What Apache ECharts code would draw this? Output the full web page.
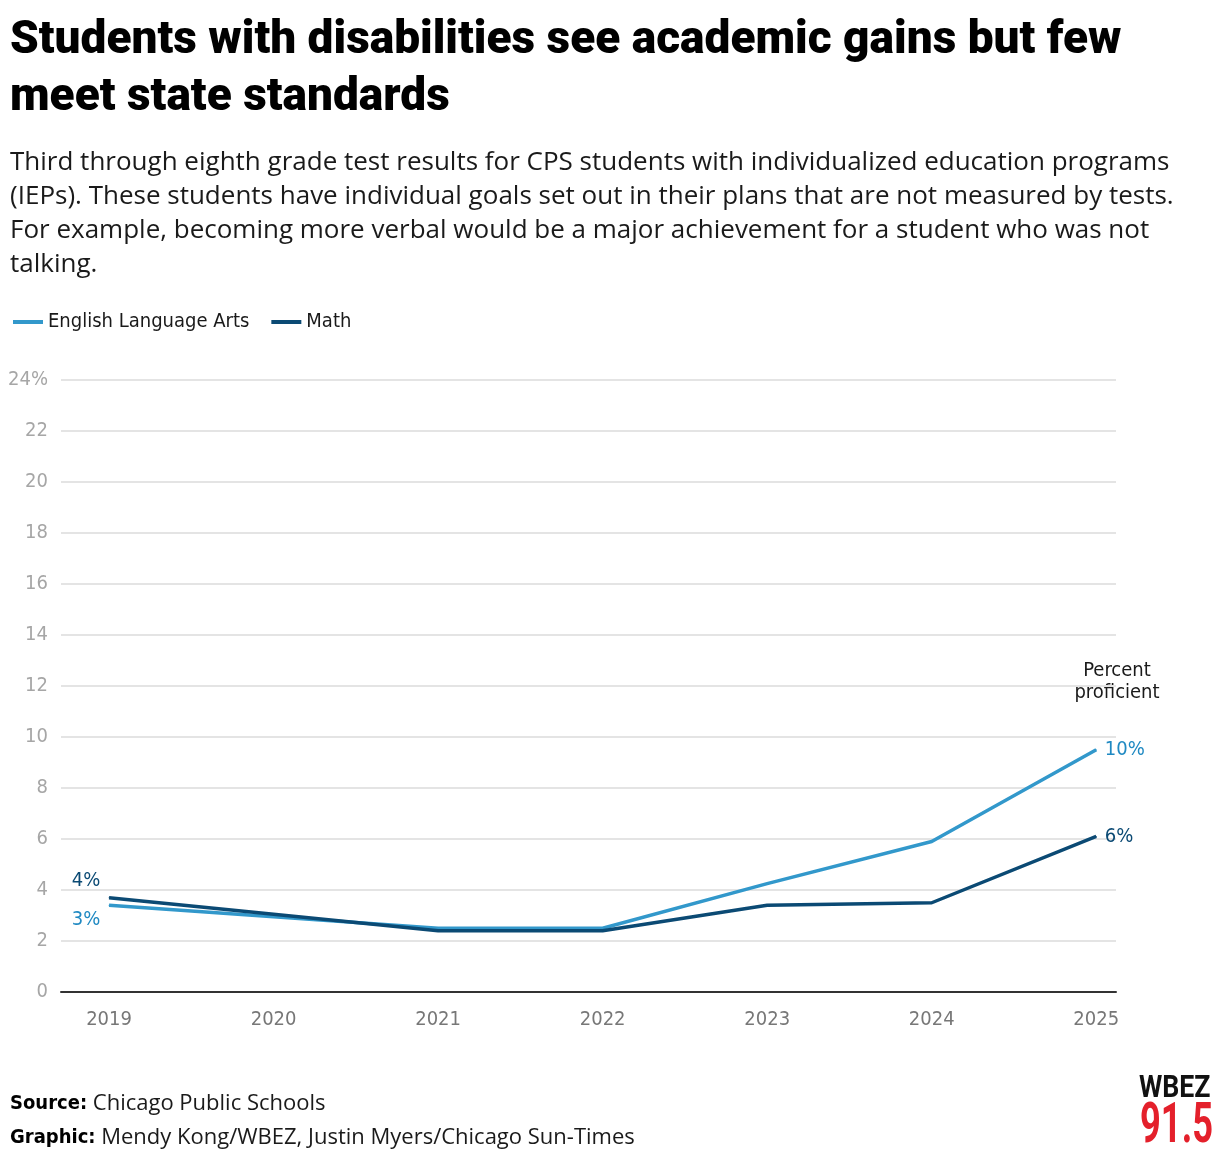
<!DOCTYPE html>
<html>
<head>
<meta charset="utf-8">
<script src="https://cdn.jsdelivr.net/npm/echarts@6/dist/echarts.min.js"></script>
<style>
  html, body { margin: 0; padding: 0; background: #fff; }
  #chart { width: 1220px; height: 1160px; }
</style>
</head>
<body>
<div id="chart"></div>
<script>
// data
var years = [2019, 2020, 2021, 2022, 2023, 2024, 2025];
var ela = [3.4, 2.95, 2.5, 2.5, 4.25, 5.9, 9.5];
var math = [3.7, 3.05, 2.4, 2.4, 3.4, 3.5, 6.1];
var elaLabels = ['3%', '', '', '', '', '', '10%'];
var mathLabels = ['4%', '', '', '', '', '', '6%'];
var yTicks = [0, 2, 4, 6, 8, 10, 12, 14, 16, 18, 20, 22, 24];

var ELA_COLOR = '#3298cb';
var ELA_TEXT = '#1f89c2';
var MATH_COLOR = '#0b4a74';
var COND = '"Liberation Sans Narrow", "DejaVu Sans Condensed", Roboto, sans-serif';
var BODY = '"Open Sans", Lato, sans-serif';

function buildData(vals, labels, first) {
  return vals.map(function(v, i) {
    var item = { value: [years[i], v] };
    if (labels[i]) {
      item.label = i === 0
        ? { show: true, formatter: labels[i], position: first, distance: first === 'top' ? 6 : 4, offset: [-23, 0] }
        : { show: true, formatter: labels[i], position: 'right', distance: 8 };
    }
    return item;
  });
}

var chart = echarts.init(document.getElementById('chart'));
chart.setOption({
  backgroundColor: '#fff',
  animation: false,
  title: [{
    text: 'Students with disabilities see academic gains but few\nmeet state standards',
    left: 5, top: 8,
    textStyle: { fontFamily: 'Roboto', fontWeight: 900, fontSize: 46, lineHeight: 57, color: '#000' }
  }, {
    text: 'Third through eighth grade test results for CPS students with individualized education programs\n(IEPs). These students have individual goals set out in their plans that are not measured by tests.\nFor example, becoming more verbal would be a major achievement for a student who was not\ntalking.',
    left: 5, top: 141,
    textStyle: { fontFamily: BODY, fontWeight: 'normal', fontSize: 26, lineHeight: 34, color: '#1a1a1a' }
  }, {
    text: '{b|Source:} Chicago Public Schools\n{b|Graphic:} Mendy Kong/WBEZ, Justin Myers/Chicago Sun-Times',
    left: 5, top: 1082,
    textStyle: {
      fontFamily: BODY, fontWeight: 'normal', fontSize: 22, lineHeight: 34, color: '#1a1a1a',
      rich: { b: { fontFamily: COND, fontWeight: 'bold', fontSize: 20, color: '#000' } }
    }
  }],
  legend: {
    left: 8, top: 307,
    icon: 'rect', itemWidth: 30, itemHeight: 4, itemGap: 22,
    textStyle: { fontFamily: COND, fontSize: 20, color: '#1a1a1a' },
    data: ['English Language Arts', 'Math']
  },
  grid: { left: 61, right: 104, top: 380, bottom: 168, containLabel: false },
  xAxis: {
    type: 'value',
    min: 2018.708, max: 2025.12,
    axisLine: { show: true, onZero: false, lineStyle: { color: '#333', width: 2 } },
    axisTick: { show: false },
    splitLine: { show: false },
    axisLabel: {
      customValues: years,
      margin: 18,
      fontFamily: COND, fontSize: 20, color: '#777',
      formatter: function(v) { return String(v); }
    }
  },
  yAxis: {
    type: 'value',
    min: 0, max: 24, interval: 2,
    axisLine: { show: false },
    axisTick: { show: false },
    splitLine: { lineStyle: { color: '#e4e4e4', width: 2 } },
    axisLabel: {
      customValues: yTicks,
      margin: 13,
      fontFamily: COND, fontSize: 20, color: '#a6a6a6',
      formatter: function(v) { return v === 24 ? '24%' : String(v); }
    }
  },
  series: [{
    name: 'English Language Arts',
    type: 'line',
    symbol: 'circle',
    symbolSize: 1,
    showAllSymbol: true,
    z: 3,
    color: ELA_COLOR,
    itemStyle: { color: ELA_COLOR },
    lineStyle: { color: ELA_COLOR, width: 3.5 },
    label: { show: false, color: ELA_TEXT, fontFamily: COND, fontSize: 20 },
    data: buildData(ela, elaLabels, 'bottom')
  }, {
    name: 'Math',
    type: 'line',
    symbol: 'circle',
    symbolSize: 1,
    showAllSymbol: true,
    z: 4,
    color: MATH_COLOR,
    itemStyle: { color: MATH_COLOR },
    lineStyle: { color: MATH_COLOR, width: 3.5 },
    label: { show: false, color: MATH_COLOR, fontFamily: COND, fontSize: 20 },
    data: buildData(math, mathLabels, 'top')
  }],
  graphic: [{
    type: 'text',
    x: 1117, y: 660,
    style: {
      text: 'Percent\nproficient',
      align: 'center',
      fontFamily: COND, fontSize: 20, lineHeight: 22, fill: '#1a1a1a'
    }
  }, {
    type: 'text',
    x: 1139, y: 1074,
    scaleX: 0.86,
    style: { text: 'WBEZ', fontFamily: 'Roboto', fontWeight: 'bold', fontSize: 31, fill: '#111' }
  }, {
    type: 'text',
    x: 1140, y: 1101,
    scaleX: 0.66,
    style: { text: '91.5', fontFamily: 'Roboto', fontWeight: 'bold', fontSize: 55, fill: '#e4202b' }
  }]
});
</script>
</body>
</html>
